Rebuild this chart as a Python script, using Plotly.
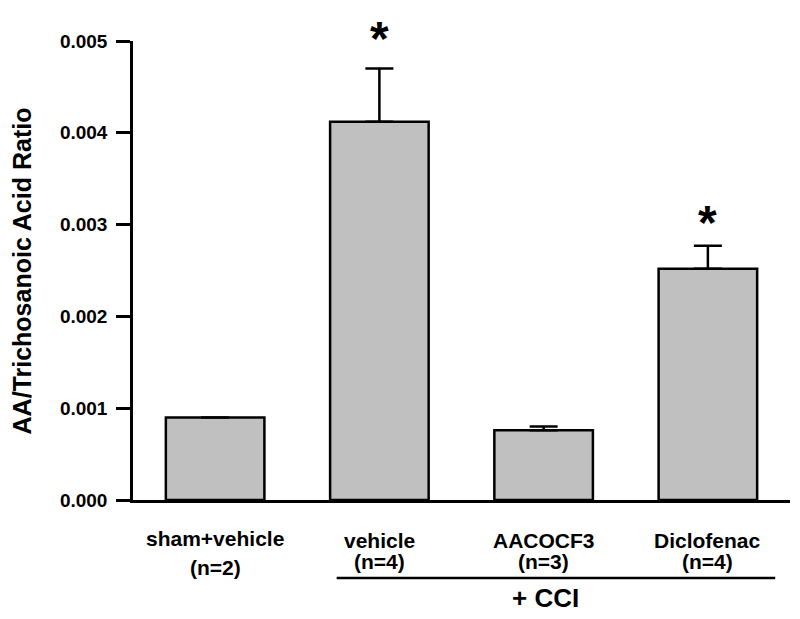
import plotly.graph_objects as go

categories = ["sham+vehicle", "vehicle", "AACOCF3", "Diclofenac"]
n_labels = ["(n=2)", "(n=4)", "(n=3)", "(n=4)"]
values = [0.00090, 0.00412, 0.00076, 0.00252]
errors = [0.0, 0.00058, 0.00004, 0.00025]
star_y = [None, 0.00515, None, 0.00314]
y_ticks = [0.000, 0.001, 0.002, 0.003, 0.004, 0.005]
Y_MAX = 0.005

FONT = "Liberation Sans, Arial, sans-serif"
xs = list(range(len(categories)))

fig = go.Figure()
fig.add_trace(go.Bar(
    x=xs, y=values, width=0.6,
    marker=dict(color="#c0c0c0", line=dict(color="black", width=2.5)),
    error_y=dict(type="data", symmetric=False, array=errors,
                 arrayminus=[0] * len(errors), color="black",
                 thickness=2.5, width=14),
    showlegend=False, hoverinfo="skip",
))

annotations = []
for i, (c, n) in enumerate(zip(categories, n_labels)):
    first = i == 0
    annotations.append(dict(x=i, xref="x", y=0, yref="paper", text=c,
                            showarrow=False, yanchor="middle",
                            yshift=-38 if first else -40,
                            font=dict(family=FONT, size=21, color="black", weight="bold")))
    annotations.append(dict(x=i, xref="x", y=0, yref="paper", text=n,
                            showarrow=False, yanchor="middle",
                            yshift=-67 if first else -61,
                            font=dict(family=FONT, size=21, color="black", weight="bold")))
for i, sy in enumerate(star_y):
    if sy is not None:
        annotations.append(dict(x=i, xref="x", y=sy / Y_MAX, yref="paper", text="*",
                                showarrow=False, yanchor="middle", yshift=-11,
                                font=dict(family=FONT, size=48, color="black", weight="bold")))

annotations.append(dict(x=2.01, xref="x", y=-0.2135, yref="paper", text="+ CCI",
                        showarrow=False, yanchor="middle",
                        font=dict(family=FONT, size=26, color="black", weight="bold")))
annotations.append(dict(x=-0.169, xref="paper", y=0.5, yref="paper",
                        text="AA/Trichosanoic Acid Ratio", textangle=-90,
                        showarrow=False, xanchor="center", yanchor="middle",
                        font=dict(family=FONT, size=25, color="black", weight="bold")))

fig.add_shape(type="line", xref="x", yref="paper", x0=0.74, x1=3.41,
              y0=-0.17, y1=-0.17, line=dict(color="black", width=2.5))

# page body has an 8px default margin; size compensates so the plot lands in place
fig.update_layout(
    width=792, height=611,
    margin=dict(l=125, r=10, t=33, b=119),
    plot_bgcolor="white", paper_bgcolor="white",
    annotations=annotations,
    xaxis=dict(range=[-0.5, 3.5], showline=True, linecolor="black", linewidth=2.5,
               showticklabels=False, ticks="", showgrid=False, zeroline=False),
    yaxis=dict(range=[0, Y_MAX], showline=True, linecolor="black", linewidth=2.5,
               tickvals=y_ticks, tickformat=".3f", ticks="outside", ticklen=14,
               tickwidth=2.5, tickcolor="black", showgrid=False, zeroline=False,
               ticklabelstandoff=5,
               tickfont=dict(family=FONT, size=19, color="black", weight="bold")),
)

fig.write_html("out.html")
